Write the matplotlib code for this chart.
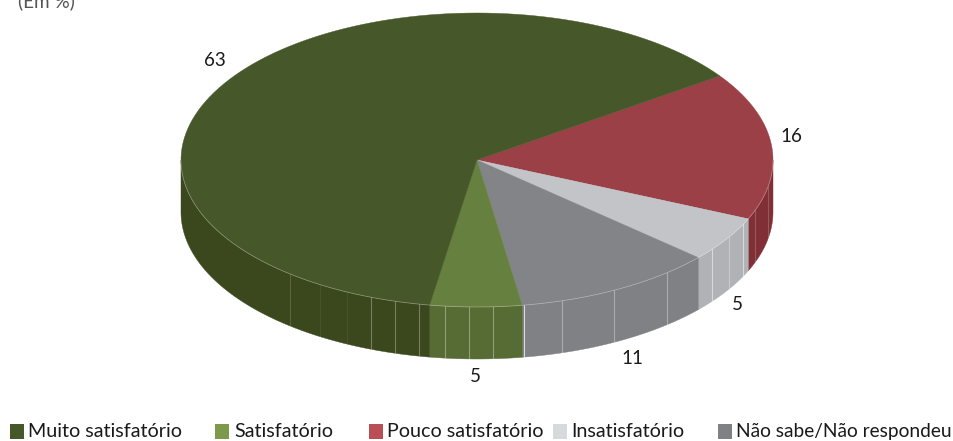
# %%

import numpy as np
import matplotlib
matplotlib.use('Agg')
import matplotlib.pyplot as plt
import matplotlib.patches as patches

plt.rcParams['font.family'] = ['Lato', 'DejaVu Sans']

# data:

categories = ['Muito satisfatório', 'Satisfatório', 'Pouco satisfatório',
              'Insatisfatório', 'Não sabe/Não respondeu']
# shares, the labels show them rounded
values = [62.75, 5, 16.25, 5, 11]
value_labels = ['63', '5', '16', '5', '11']

# slices run clockwise from the top right, in this order of categories
draw_order = [2, 3, 4, 1, 0]

top_colors = ['#465829', '#66803f', '#9a4046', '#c2c4c8', '#838488']
wall_colors = ['#3b481d', '#566c34', '#7f2f35', '#b1b2b6', '#808185']
legend_colors = ['#46582a', '#7d9a4c', '#b94f54', '#d8d9db', '#808184']

legend_box_x = [10, 215, 369, 553, 718]
legend_text_x = [28, 234, 387, 571, 736]
legend_size = [14.2, 14.2, 14.2, 14.2, 13.8]
label_pos = [(215, 60), (475, 376), (791, 136), (737, 305), (632, 359)]

# seams on the side of the pie: x position and how strong they show
seam_x = [290, 320, 347, 371, 395, 419, 445, 469, 493, 524, 562, 614, 667,
          712, 729, 743, 755, 768]
seam_alpha = [.15, .06, .06, .3, .3, .3, .35, .35, .35, .7, .35, .35, .35,
              .5, .3, .5, .2, .2]

CX, CY, RX, RY = 477, 160, 296, 147
DEPTH = 52
START = 34.9


def arc(a0, a1, dy=0, n=120):
    t = np.radians(np.linspace(a0, a1, n))
    return np.column_stack([CX + RX * np.cos(t), CY - RY * np.sin(t) + dy])


fig = plt.figure(figsize=(9.54, 4.41), dpi=100)
ax = fig.add_axes([0, 0, 1, 1])
ax.set_xlim(0, 954)
ax.set_ylim(441, 0)
ax.axis('off')

# %%

# slice angles from the values
angles = []
a = START
for i in draw_order:
    sweep = values[i] * 360. / sum(values)
    angles.append((i, a, a - sweep))
    a -= sweep

# side wall, only the front half can be seen
for i, a0, a1 in angles:
    lo, hi = max(a1, -180), min(a0, 0)
    if hi > lo:
        pts = np.vstack([arc(hi, lo), arc(lo, hi, DEPTH)])
        ax.add_patch(patches.Polygon(pts, closed=True, fc=wall_colors[i],
                                     ec=wall_colors[i], lw=.3, zorder=2))

for x, al in zip(seam_x, seam_alpha):
    s = np.sqrt(1 - ((x - CX) / RX) ** 2)
    y0 = CY + RY * s
    ax.plot([x, x], [y0, y0 + DEPTH], color='w', lw=.8, alpha=al, zorder=3)

# top of the pie
for i, a0, a1 in angles:
    pts = np.vstack([[CX, CY], arc(a0, a1)])
    ax.add_patch(patches.Polygon(pts, closed=True, fc=top_colors[i],
                                 ec=top_colors[i], lw=.3, zorder=4))

rim = arc(-180, 0, n=300)
ax.plot(rim[:, 0], rim[:, 1], color='w', lw=.6, alpha=.3, zorder=5)

# %%

for txt, (x, y) in zip(value_labels, label_pos):
    ax.text(x, y, txt, fontsize=13.5, color='#1a1a1a', ha='center',
            va='center', zorder=6)

ax.text(18, 1, '(Em %)', fontsize=13.6, color='#555555', ha='left',
        va='center', clip_on=True)

for name, col, bx, tx, fs in zip(categories, legend_colors, legend_box_x,
                                 legend_text_x, legend_size):
    ax.add_patch(patches.Rectangle((bx, 424), 14, 14.5, fc=col, ec='none'))
    ax.text(tx, 437, name, fontsize=fs, color='#1a1a1a', ha='left',
            va='baseline')

fig.savefig('out.png', dpi=100)
